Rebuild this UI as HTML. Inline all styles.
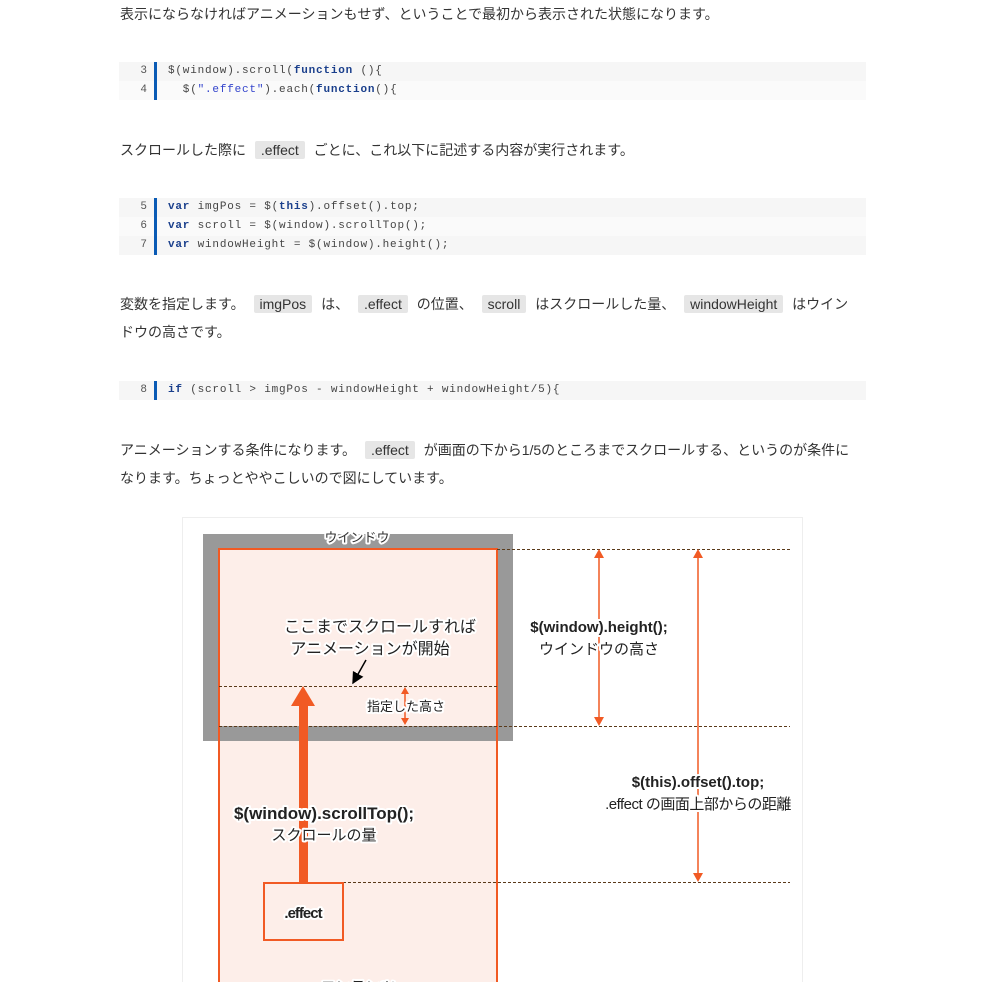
<!DOCTYPE html>
<html><head><meta charset="utf-8"><style>
body{margin:0;background:#fff;width:990px;height:982px;overflow:hidden;position:relative;font-family:"Liberation Sans","Noto Sans CJK JP",sans-serif;color:#333}
.p{position:absolute;left:120px;font-size:14px;line-height:28px;white-space:nowrap}
.c{background:#e6e6e6;padding:1px 6px;border-radius:2px;margin:0 5px}
.code{position:absolute;left:119px;width:747px;font-family:"Liberation Mono",monospace;font-size:11px;letter-spacing:0.8px;color:#444;white-space:pre}
.code div{height:19px;line-height:19px;position:relative}
.code div:nth-child(odd){background:#f6f6f6}
.code div:nth-child(even){background:#fafafa}
.code .n{display:inline-block;width:28px;text-align:right;color:#555;margin-right:11px;border-right:3px solid #0a5bb5;padding-right:7px;height:19px;letter-spacing:0}
.k{color:#1a3f8c;font-weight:bold}.s{color:#3344cc}
</style></head><body>
<div class="p" style="top:0">表示にならなければアニメーションもせず、ということで最初から表示された状態になります。</div>
<div class="code" style="top:62px"><div><span class="n">3</span>$(window).scroll(<span class="k">function</span> (){</div><div><span class="n">4</span>  $(<span class="s">".effect"</span>).each(<span class="k">function</span>(){</div></div>
<div class="p" style="top:136px">スクロールした際に <span class="c">.effect</span> ごとに、これ以下に記述する内容が実行されます。</div>
<div class="code" style="top:198px"><div><span class="n">5</span><span class="k">var</span> imgPos = $(<span class="k">this</span>).offset().top;</div><div><span class="n">6</span><span class="k">var</span> scroll = $(window).scrollTop();</div><div><span class="n">7</span><span class="k">var</span> windowHeight = $(window).height();</div></div>
<div class="p" style="top:290px">変数を指定します。 <span class="c">imgPos</span> は、 <span class="c">.effect</span> の位置、 <span class="c">scroll</span> はスクロールした量、 <span class="c">windowHeight</span> はウイン<br>ドウの高さです。</div>
<div class="code" style="top:381px"><div><span class="n">8</span><span class="k">if</span> (scroll &gt; imgPos - windowHeight + windowHeight/5){</div></div>
<div class="p" style="top:436px">アニメーションする条件になります。 <span class="c">.effect</span> が画面の下から1/5のところまでスクロールする、というのが条件に<br>なります。ちょっとややこしいので図にしています。</div>
<svg style="position:absolute;left:0;top:0" width="990" height="982" font-family="Liberation Sans,Noto Sans CJK JP,sans-serif">
<defs><marker id="b" markerWidth="8" markerHeight="8" refX="7" refY="4" orient="auto"><path d="M0,0L8,4L0,8z" fill="#000"/></marker></defs>
<rect x="182.5" y="517.5" width="620" height="470" fill="#fff" stroke="#eee"/>
<rect x="203" y="534" width="310" height="207" fill="#999"/>
<rect x="219" y="549" width="278" height="450" fill="#fdeee9" stroke="#f15a24" stroke-width="2"/>
<rect x="219" y="726" width="278" height="15" fill="#999"/>
<line x1="219" y1="726" x2="219" y2="741" stroke="#f15a24" stroke-width="2"/><line x1="497" y1="726" x2="497" y2="741" stroke="#f15a24" stroke-width="2"/>
<g stroke="#5a3a1a" stroke-dasharray="3,2" stroke-width="1"><line x1="497" y1="549.5" x2="790" y2="549.5"/><line x1="219" y1="686.5" x2="497" y2="686.5"/><line x1="219" y1="726.5" x2="790" y2="726.5"/><line x1="343" y1="882.5" x2="790" y2="882.5"/></g>
<g stroke="#f15a24" stroke-width="1.5"><line x1="599" y1="555" x2="599" y2="720"/>
<line x1="698" y1="555" x2="698" y2="876"/><line x1="405" y1="692" x2="405" y2="720"/></g>
<path d="M594,558L599,549L604,558z M594,717L599,726L604,717z M693,558L698,549L703,558z M693,873L698,882L703,873z M401,694L405,687L409,694z M401,718L405,725L409,718z" fill="#f15a24"/>
<rect x="299" y="704" width="9" height="180" fill="#f15a24"/><path d="M291,706L303,686L315,706z" fill="#f15a24"/>
<rect x="264" y="883" width="79" height="57" fill="#fdeee9" stroke="#f15a24" stroke-width="2"/>
<line x1="366" y1="660" x2="353" y2="683" stroke="#000" stroke-width="1.5" marker-end="url(#b)"/>
<g text-anchor="middle" stroke="#fff" stroke-width="4" paint-order="stroke" stroke-linejoin="round" fill="#222">
<text x="357" y="542" font-size="13" fill="#333">ウインドウ</text>
<text x="380" y="632" font-size="16">ここまでスクロールすれば</text><text x="370" y="654" font-size="16">アニメーションが開始</text>
<text x="406" y="711" font-size="13">指定した高さ</text>
<text x="599" y="632" font-size="15" font-weight="bold">$(window).height();</text><text x="599" y="654" font-size="15">ウインドウの高さ</text>
<text x="698" y="787" font-size="15" font-weight="bold">$(this).offset().top;</text><text x="698" y="809" font-size="15" letter-spacing="-0.5">.effect の画面上部からの距離</text>
<text x="324" y="819" font-size="17" font-weight="bold">$(window).scrollTop();</text><text x="324" y="840" font-size="15">スクロールの量</text>
<text x="303" y="918" font-size="15" font-weight="bold" letter-spacing="-1">.effect</text>
<text x="358" y="992" font-size="15">コンテンツ</text></g>
</svg>
</body></html>
